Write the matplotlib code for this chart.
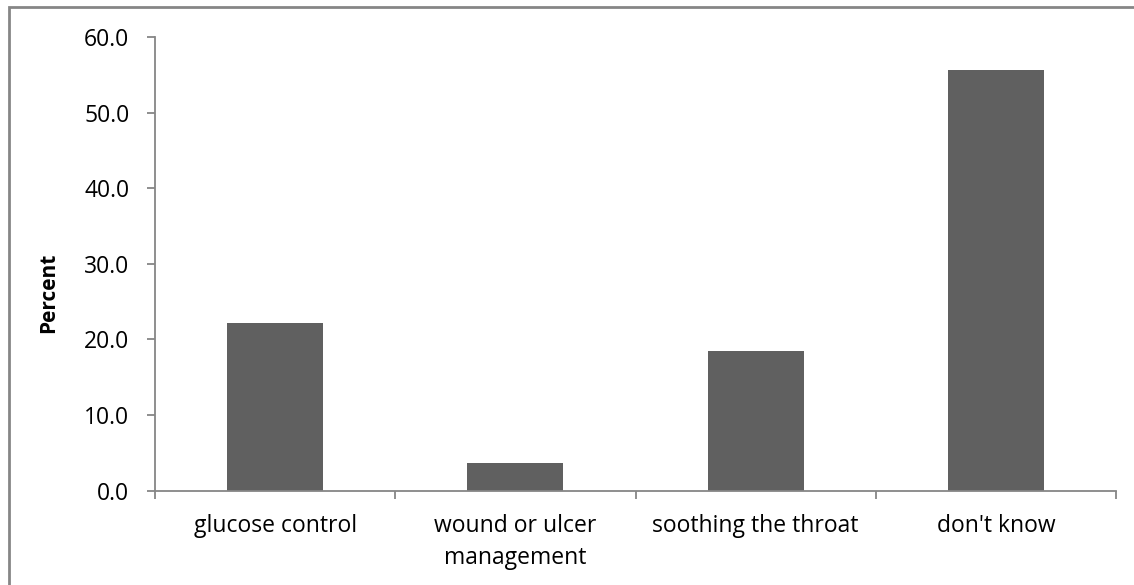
import matplotlib.pyplot as plt
from matplotlib.patches import Rectangle

categories = ['glucose control', 'wound or ulcer\nmanagement', 'soothing the throat', "don't know"]
percent = [22.2, 3.7, 18.5, 55.6]
yticks = [0, 10, 20, 30, 40, 50, 60]

plt.rcParams['font.family'] = ['Open Sans', 'DejaVu Sans']
axis_col = '#868686'

fig = plt.figure(figsize=(11.34, 5.85), dpi=100)
ax = fig.add_axes([155 / 1134, 1 - 490.5 / 585, (1116 - 155) / 1134, (490.5 - 37.2) / 585])

x = range(len(categories))
ax.bar(x, percent, width=0.4, color='#606060', zorder=2)

ax.set_xlim(-0.5, len(categories) - 0.5)
ax.set_ylim(0, 60)
ax.set_yticks(yticks)
ax.set_yticklabels([f'{v:.1f}' for v in yticks])

# category labels centred, ticks on the category boundaries
ax.set_xticks(list(x))
ax.set_xticklabels(categories, linespacing=1.45)
ax.tick_params(axis='x', which='major', length=0, pad=17, labelsize=16.5)
ax.set_xticks([i - 0.5 for i in range(len(categories) + 1)], minor=True)
ax.tick_params(axis='x', which='minor', length=5.5, width=1.3, color=axis_col, direction='out')
ax.tick_params(axis='y', length=5.5, width=1.3, color=axis_col, direction='out', pad=13, labelsize=16.5)

for s in ['top', 'right']:
    ax.spines[s].set_visible(False)
for s in ['left', 'bottom']:
    ax.spines[s].set_color(axis_col)
    ax.spines[s].set_linewidth(1.3)

ax.set_ylabel('Percent', fontsize=15, fontweight='bold')
ax.yaxis.set_label_coords(59 / 1134, 0.5, transform=fig.transFigure)

# outer chart border
fig.patches.append(Rectangle((9 / 1134, -0.05), 1.2, 1 - 7 / 585 + 0.05, transform=fig.transFigure,
                             fill=False, edgecolor=axis_col, linewidth=2))

fig.savefig('out.png', dpi=100)
